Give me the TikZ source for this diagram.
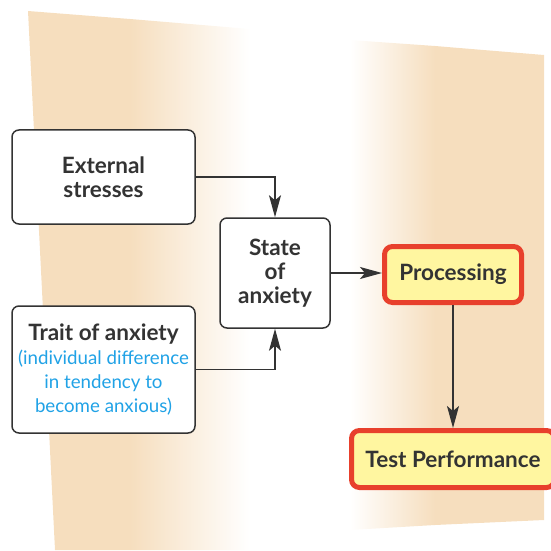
\documentclass[tikz,border=0pt]{standalone}
\usepackage{fontspec}
\setmainfont{Lato}
\usetikzlibrary{arrows.meta}
\definecolor{paper}{RGB}{246,222,190}
\definecolor{ink}{RGB}{51,51,51}
\definecolor{note}{RGB}{32,162,230}
\definecolor{hotline}{RGB}{232,64,44}
\definecolor{hotfill}{RGB}{255,246,160}
\newcommand{\aside}[1]{\textcolor{note}{\mdseries\fontsize{18.7}{24}\selectfont #1}}

\begin{document}
\begin{tikzpicture}
    [x=1pt,y=1pt,
     every node/.style={font=\fontsize{22.5}{24}\selectfont\bfseries,text=ink,align=center},
     box/.style={draw=ink,fill=white,line width=1.5pt,rounded corners=7pt,inner sep=0pt},
     hot/.style={draw=hotline,fill=hotfill,line width=5pt,rounded corners=8pt,inner sep=0pt},
     link/.style={draw=ink,line width=1.5pt,-{Stealth[length=22pt,width=12pt,inset=5pt]}}]
    \useasboundingbox (0,0) rectangle (551,550);
    % backdrop strips
    \fill[paper] (28,539) -- (130,531) -- (130,0) -- (55,0) -- cycle;
    \shade[left color=paper,right color=white] (130,531) -- (250,521) -- (250,0) -- (130,0) -- cycle;
    \shade[left color=white,right color=paper] (350,510) -- (435,504) -- (435,25) -- (350,20) -- cycle;
    \fill[paper] (435,504) -- (544,495) -- (544,30) -- (435,25) -- cycle;
    \node[box,minimum width=183pt,minimum height=94pt] (ext) at (103.5,373) {External\\stresses};
    \node[box,minimum width=183pt,minimum height=127pt] (trait) at (103.5,180.5)
      {Trait of anxiety\\\aside{(individual difference}\\\aside{in tendency to}\\\aside{become anxious)}};
    \node[box,minimum width=110pt,minimum height=110pt] (state) at (275,277) {State\\of\\anxiety};
    \node[hot,minimum width=137pt,minimum height=56pt] (proc) at (453,275.5) {Processing};
    \node[hot,minimum width=203pt,minimum height=57pt] (test) at (453,91) {Test Performance};
    \draw[link] (ext.east) -| (state.north);
    \draw[link] (trait.east) -| (state.south);
    \draw[link] (state.east) -- (state.east -| proc.west);
    \draw[link] (proc) -- (test);
  \end{tikzpicture}
\end{document}
